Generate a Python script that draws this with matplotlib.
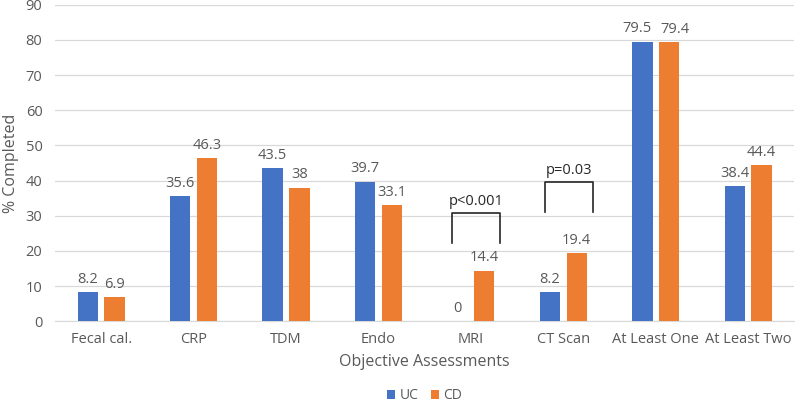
import numpy as np
import matplotlib
matplotlib.use("Agg")
import matplotlib.pyplot as plt

categories = ["Fecal cal.", "CRP", "TDM", "Endo", "MRI", "CT Scan",
              "At Least One", "At Least Two"]
uc = [8.2, 35.6, 43.5, 39.7, 0, 8.2, 79.5, 38.4]
cd = [6.9, 46.3, 38, 33.1, 14.4, 19.4, 79.4, 44.4]
uc_labels = ["8.2", "35.6", "43.5", "39.7", "0", "8.2", "79.5", "38.4"]
cd_labels = ["6.9", "46.3", "38", "33.1", "14.4", "19.4", "79.4", "44.4"]

# significance brackets: category index, bottom, top, text
brackets = [(4, 22.2, 30.8, "p<0.001"), (5, 31.0, 39.6, "p=0.03")]

plt.rcParams['font.family'] = ['Open Sans', 'DejaVu Sans']
txt = "#595959"
blue = "#4472C4"
orange = "#ED7D31"

fig = plt.figure(figsize=(7.96, 4.04), dpi=100)
ax = fig.add_axes([0.069, 0.205, 0.929, 0.783])

x = np.arange(len(categories))
w = 0.22
off = 0.145
ax.bar(x - off, uc, w, color=blue, label="UC", zorder=3)
ax.bar(x + off, cd, w, color=orange, label="CD", zorder=3)

for i in range(len(categories)):
    # push apart labels that would collide (bars of near equal height)
    sp = 0.06 if abs(uc[i] - cd[i]) < 1 else 0
    ax.text(x[i] - off - sp, uc[i] + 1.5, uc_labels[i], ha="center",
            va="bottom", fontsize=10.5, color=txt)
    ax.text(x[i] + off + sp, cd[i] + 1.5, cd_labels[i], ha="center",
            va="bottom", fontsize=10.5, color=txt)

for i, lo, hi, t in brackets:
    xl, xr = x[i] - 0.2, x[i] + 0.32
    ax.plot([xl, xl, xr, xr], [lo, hi, hi, lo], color="#262626", lw=1.2,
            zorder=4)
    ax.text((xl + xr) / 2, hi + 1.2, t, ha="center", va="bottom",
            fontsize=10.5, color="#262626")

ax.set_xlim(-0.5, len(categories) - 0.5)
ax.set_ylim(0, 90)
ax.set_yticks(range(0, 91, 10))
ax.set_xticks(x)
ax.set_xticklabels(categories)
ax.tick_params(axis="both", length=0, labelsize=10.5, colors=txt)
ax.tick_params(axis="x", pad=8)
ax.tick_params(axis="y", pad=9)
ax.grid(axis="y", color="#D9D9D9", lw=0.9, zorder=0)
for s in ["top", "right", "left"]:
    ax.spines[s].set_visible(False)
ax.spines["bottom"].set_color("#D9D9D9")

ax.set_xlabel("Objective Assessments", fontsize=11.5, color=txt, labelpad=5)
ax.set_ylabel("% Completed", fontsize=11.5, color=txt, labelpad=5)

ax.legend(loc="center", bbox_to_anchor=(0.5, -0.235), ncol=2,
          frameon=False, fontsize=10, labelcolor=txt, handlelength=0.6,
          handleheight=0.6, columnspacing=0.9, handletextpad=0.3,
          borderpad=0.2)

fig.savefig("out.png", dpi=100)
